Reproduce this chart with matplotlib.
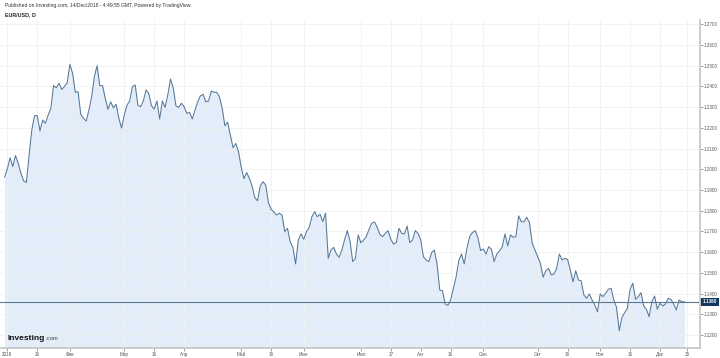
import numpy as np
import pandas as pd
import matplotlib
matplotlib.use("Agg")
import matplotlib.pyplot as plt

plt.rcParams["font.family"] = ["Liberation Sans", "DejaVu Sans"]

# EUR/USD daily closes, 29 Dec 2017 .. 14 Dec 2018 (business days)
start_date = "2017-12-29"
closes = [
    1.1962, 1.2002, 1.2056, 1.2013, 1.2066, 1.2029, 1.1981, 1.1944, 1.1937, 1.2069,
    1.2190, 1.2259, 1.2259, 1.2185, 1.2238, 1.2222, 1.2262, 1.2294, 1.2404, 1.2394,
    1.2415, 1.2386, 1.2399, 1.2418, 1.2507, 1.2463, 1.2372, 1.2375, 1.2265, 1.2246,
    1.2233, 1.2286, 1.2350, 1.2447, 1.2500, 1.2404, 1.2404, 1.2343, 1.2290, 1.2326,
    1.2297, 1.2314, 1.2247, 1.2199, 1.2262, 1.2310, 1.2330, 1.2399, 1.2407, 1.2310,
    1.2302, 1.2330, 1.2383, 1.2367, 1.2307, 1.2291, 1.2330, 1.2243, 1.2330, 1.2299,
    1.2359, 1.2436, 1.2394, 1.2306, 1.2299, 1.2319, 1.2302, 1.2270, 1.2275, 1.2243,
    1.2286, 1.2326, 1.2355, 1.2362, 1.2326, 1.2330, 1.2378, 1.2372, 1.2372, 1.2350,
    1.2294, 1.2210, 1.2227, 1.2166, 1.2104, 1.2125, 1.2085, 1.2010, 1.1955, 1.1984,
    1.1957, 1.1919, 1.1863, 1.1848, 1.1919, 1.1940, 1.1924, 1.1839, 1.1807, 1.1794,
    1.1779, 1.1788, 1.1779, 1.1699, 1.1715, 1.1650, 1.1623, 1.1543, 1.1659, 1.1688,
    1.1662, 1.1699, 1.1720, 1.1771, 1.1795, 1.1771, 1.1783, 1.1747, 1.1788, 1.1570,
    1.1610, 1.1623, 1.1591, 1.1575, 1.1610, 1.1659, 1.1704, 1.1655, 1.1554, 1.1570,
    1.1683, 1.1645, 1.1658, 1.1675, 1.1710, 1.1740, 1.1746, 1.1720, 1.1685, 1.1675,
    1.1690, 1.1704, 1.1662, 1.1639, 1.1646, 1.1715, 1.1691, 1.1688, 1.1726, 1.1646,
    1.1659, 1.1704, 1.1691, 1.1659, 1.1578, 1.1562, 1.1554, 1.1597, 1.1610, 1.1543,
    1.1417, 1.1414, 1.1350, 1.1343, 1.1369, 1.1425, 1.1479, 1.1559, 1.1591, 1.1543,
    1.1619, 1.1675, 1.1694, 1.1704, 1.1672, 1.1608, 1.1615, 1.1591, 1.1626, 1.1614,
    1.1554, 1.1591, 1.1606, 1.1626, 1.1688, 1.1630, 1.1683, 1.1672, 1.1675, 1.1775,
    1.1747, 1.1747, 1.1768, 1.1742, 1.1643, 1.1610, 1.1578, 1.1546, 1.1479, 1.1510,
    1.1522, 1.1490, 1.1494, 1.1522, 1.1591, 1.1562, 1.1570, 1.1565, 1.1514, 1.1457,
    1.1510, 1.1465, 1.1462, 1.1393, 1.1377, 1.1398, 1.1369, 1.1345, 1.1312, 1.1398,
    1.1385, 1.1401, 1.1421, 1.1425, 1.1369, 1.1334, 1.1221, 1.1285, 1.1308, 1.1329,
    1.1421, 1.1450, 1.1372, 1.1385, 1.1404, 1.1340, 1.1324, 1.1288, 1.1361, 1.1388,
    1.1324, 1.1353, 1.1340, 1.1350, 1.1377, 1.1372, 1.1350, 1.1321, 1.1369, 1.1361,
    1.1360,
]
last_price = 1.1360

tick_dates = ["2018-01-01", "2018-01-16", "2018-02-01", "2018-03-01", "2018-03-16",
              "2018-04-02", "2018-05-01", "2018-05-16", "2018-06-01", "2018-07-02",
              "2018-07-17", "2018-08-01", "2018-08-16", "2018-09-03", "2018-10-01",
              "2018-10-16", "2018-11-01", "2018-11-16", "2018-12-03", "2018-12-17"]
tick_labels = ["2018", "16", "Фев", "Мар", "16", "Апр", "Май", "16", "Июн", "Июл",
               "17", "Авг", "16", "Сен", "Окт", "16", "Ноя", "16", "Дек", "15"]
y_ticks = [1.12, 1.13, 1.14, 1.15, 1.16, 1.17, 1.18, 1.19, 1.20,
           1.21, 1.22, 1.23, 1.24, 1.25, 1.26, 1.27]

# TradingView squeezes out weekends: plot against business-day position
cal = pd.bdate_range(start_date, "2018-12-31")
x = np.arange(len(closes))
tick_pos = [cal.get_loc(pd.Timestamp(d)) for d in tick_dates]

W, H = 720, 358
fig = plt.figure(figsize=(W / 100, H / 100), dpi=100)
ax = fig.add_axes([0, 10 / H, 700 / W, 328 / H])

ax.fill_between(x, closes, 1.10, color="#e2edf9", lw=0)
ax.plot(x, closes, color="#557899", lw=0.75)
ax.axhline(last_price, color="#5c7893", lw=0.8)

ax.set_xlim(-1.7, 255.7)
ax.set_ylim(1.1137, 1.2721)
ax.yaxis.tick_right()
ax.set_yticks(y_ticks, [f"{v:.4f}" for v in y_ticks])
ax.set_xticks(tick_pos, tick_labels)
ax.tick_params(axis="both", labelsize=3.3, colors="#555555", length=2, width=0.4, pad=1)
ax.grid(color="#f0f0f0", lw=0.6)
for s in ("top", "left"):
    ax.spines[s].set_visible(False)
for s in ("right", "bottom"):
    ax.spines[s].set_color("#cccccc")
    ax.spines[s].set_linewidth(1.4)

ax.text(1.004, last_price, f"{last_price:.4f}", transform=ax.get_yaxis_transform(),
        ha="left", va="center", fontsize=3.3, color="white", fontweight="bold",
        bbox=dict(boxstyle="square,pad=0.35", fc="#12355b", ec="none"))

fig.text(5 / W, 1 - 5 / H, "Published on Investing.com, 14/Dec/2018 - 4:49:55 GMT, Powered by TradingView.",
         ha="left", va="center", fontsize=3.6, color="#333333")
fig.text(5 / W, 1 - 14.5 / H, "EUR/USD, D", ha="left", va="center", fontsize=3.8,
         color="#222222", fontweight="bold")

# logo: ".com" glued right after the bold word
logo = fig.text(7.5 / W, 1 - 339.5 / H, "Investing", ha="left", va="baseline",
                fontsize=6.0, color="#111111", fontweight="bold")
ax.annotate(".com", xy=(1, 0), xycoords=logo, xytext=(0.6, 0), textcoords="offset points",
            ha="left", va="bottom", fontsize=4.2, color="#444444", annotation_clip=False)

fig.savefig("out.png", dpi=100)
